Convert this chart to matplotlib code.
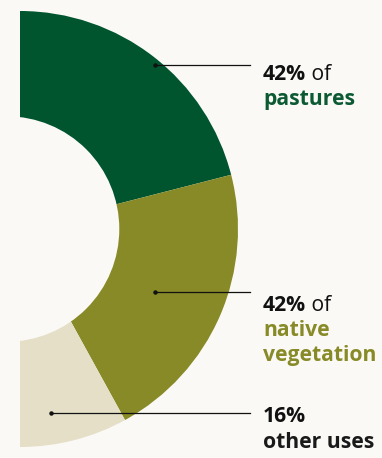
import matplotlib.pyplot as plt
from matplotlib.patches import Circle

# data
labels = ['pastures', 'native vegetation', 'other uses']
shares = [42, 42, 16]
pct_text = ['42%', '42%', '16%']
name_lines = [['pastures'], ['native', 'vegetation'], ['other uses']]

colors = ['#00552f', '#878a26', '#e5dfc8']
text_colors = ['#0b5a33', '#878a26', '#1a1a1a']
bg = '#faf9f5'

W, H = 382, 458
fig = plt.figure(figsize=(W / 100, H / 100), dpi=100, facecolor=bg)
ax = fig.add_axes([0, 0, 1, 1])
ax.set_facecolor(bg)

# half donut: the last (hidden) slice takes the left half
cx, cy, R = 20, 229, 218
ax.pie(shares + [sum(shares)], colors=colors + ['none'], startangle=90,
       counterclock=False, center=(cx, cy), radius=R,
       wedgeprops=dict(linewidth=0))
ax.add_patch(Circle((6.6, cy), 112.7, facecolor=bg, edgecolor='none', zorder=3))

ax.set_xlim(0, W)
ax.set_ylim(0, H)
ax.set_aspect('auto')
ax.axis('off')

# leader lines (image pixel coords, y from top)
leaders = [(155, 65), (155, 292), (51, 413)]
for x0, y0 in leaders:
    ax.plot([x0, 250], [H - y0, H - y0], color='#111111', lw=0.9, zorder=4)
    ax.plot([x0], [H - y0], 'o', color='#111111', ms=2.2, zorder=4)

fam = ['Open Sans', 'DejaVu Sans']
fs = 15.2
tx = 263
first_base = [80.5, 311, 422.5]
step = 25
fig.canvas.draw()
rend = fig.canvas.get_renderer()
for i in range(len(shares)):
    y = H - first_base[i]
    t = ax.text(tx, y, pct_text[i], fontsize=fs, fontweight='bold',
                family=fam, color='#111111', va='baseline', ha='left')
    if i < 2:
        bb = t.get_window_extent(rend)
        x_end = ax.transData.inverted().transform((bb.x1, 0))[0]
        ax.text(x_end, y, ' of', fontsize=fs, family=fam, color='#111111',
                va='baseline', ha='left')
    for j, ln in enumerate(name_lines[i]):
        ax.text(tx, y - step * (j + 1), ln, fontsize=fs, fontweight='bold',
                family=fam, color=text_colors[i], va='baseline', ha='left')

fig.savefig('out.png', dpi=100, facecolor=bg)
